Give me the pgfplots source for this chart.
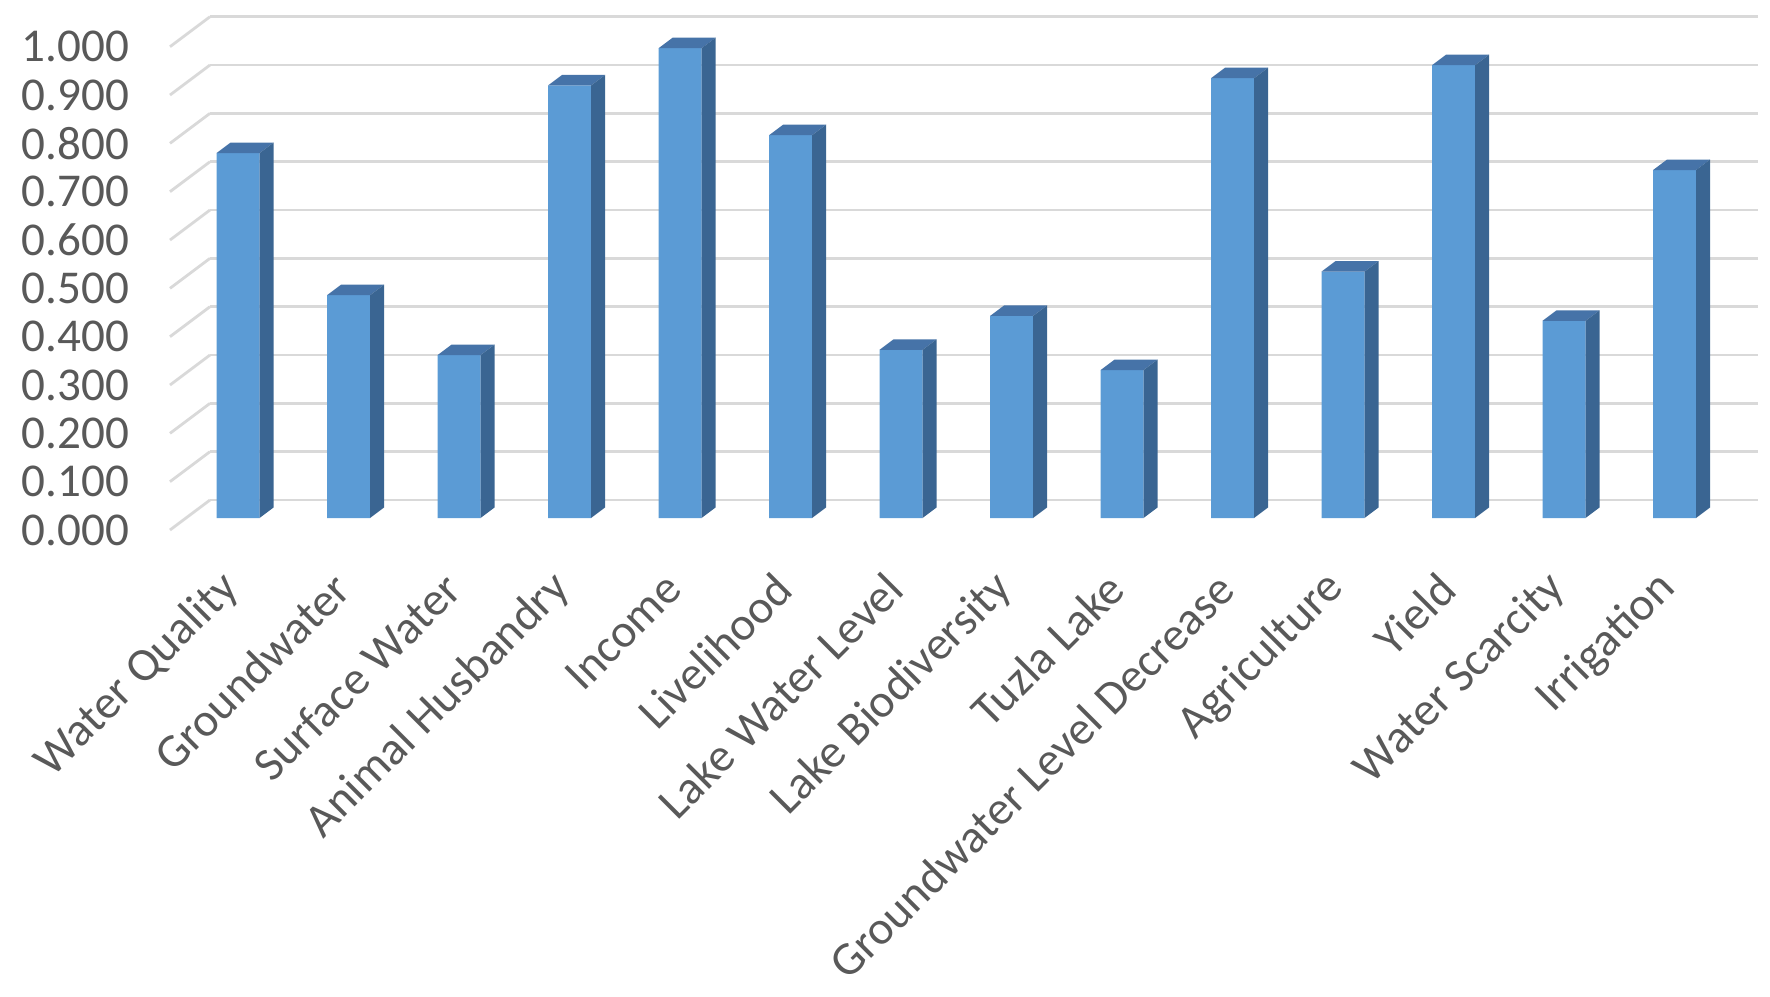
\documentclass[border=0pt]{standalone}
\usepackage{fontspec}
\setmainfont{Carlito}
\usepackage{pgfplots}
\pgfplotsset{compat=1.18}

\definecolor{barfront}{HTML}{5B9BD5}
\definecolor{bartop}{HTML}{4673A8}
\definecolor{barside}{HTML}{3A6592}
\definecolor{gridgray}{HTML}{D9D9D9}
\definecolor{labelgray}{HTML}{595959}

% top and right faces of an Excel-style 3D column, drawn at the bar top;
% \rawy is the bar value, 4.833cm is one y unit (height/(ymax-ymin))
\pgfdeclareplotmark{cube3d}{%
  \pgfmathsetmacro\barh{\rawy*4.833}%
  \pgfpathmoveto{\pgfpoint{-0.215cm}{0cm}}%
  \pgfpathlineto{\pgfpoint{0.215cm}{0cm}}%
  \pgfpathlineto{\pgfpoint{0.355cm}{0.105cm}}%
  \pgfpathlineto{\pgfpoint{-0.075cm}{0.105cm}}%
  \pgfpathclose
  \pgfsetfillcolor{bartop}\pgfusepath{fill}%
  \pgfpathmoveto{\pgfpoint{0.215cm}{0cm}}%
  \pgfpathlineto{\pgfpoint{0.355cm}{0.105cm}}%
  \pgfpathlineto{\pgfpoint{0.355cm}{0.105cm-\barh cm}}%
  \pgfpathlineto{\pgfpoint{0.215cm}{-\barh cm}}%
  \pgfpathclose
  \pgfsetfillcolor{barside}\pgfusepath{fill}%
}

\begin{document}
\begin{tikzpicture}
\useasboundingbox (-1.86,-4.78) rectangle (15.84,5.18);
\begin{axis}[
    at={(0,0)}, anchor=south west, scale only axis,
    width=15.48cm, height=4.833cm,
    xmin=-0.4706, xmax=13.538, ymin=0, ymax=1,
    clip=false,
    axis line style={draw=none}, tick style={draw=none},
    xtick={0,...,13},
    xticklabels={Water Quality, Groundwater, Surface Water, Animal Husbandry,
        Income, Livelihood, Lake Water Level, Lake Biodiversity, Tuzla Lake,
        Groundwater Level Decrease, Agriculture, Yield, Water Scarcity, Irrigation},
    ytick={0,0.1,...,1},
    /pgf/number format/fixed, /pgf/number format/fixed zerofill,
    /pgf/number format/precision=3, /pgf/number format/assume math mode=true,
    tick label style={font=\fontsize{13.4}{16}\selectfont, text=labelgray},
    yticklabel style={anchor=east, inner sep=0pt, xshift=-0.56cm, yshift=-0.12cm},
    xticklabel style={inner sep=0pt, xshift=-0.06cm, yshift=-0.63cm, rotate=45, anchor=east},
    ymajorgrids,
    major grid style={draw=gridgray, line width=0.8pt, xshift=0.24cm, yshift=0.18cm},
]
% slanted grid lines on the left wall
\pgfplotsinvokeforeach{0,0.1,0.2,0.3,0.4,0.5,0.6,0.7,0.8,0.9,1}{
  \draw[gridgray, line width=0.8pt]
    ([xshift=-0.16cm, yshift=-0.12cm]axis cs:-0.4706,#1) --
    ([xshift=0.24cm, yshift=0.18cm]axis cs:-0.4706,#1);
}
\addplot[ybar, bar width=0.43cm, bar shift=0pt, fill=barfront, draw=none,
    mark=cube3d, visualization depends on=rawy\as\rawy]
  coordinates {(0,0.755)(1,0.461)(2,0.337)(3,0.895)(4,0.972)(5,0.792)(6,0.348)
               (7,0.418)(8,0.306)(9,0.910)(10,0.510)(11,0.937)(12,0.408)(13,0.720)};
\end{axis}
\end{tikzpicture}
\end{document}
